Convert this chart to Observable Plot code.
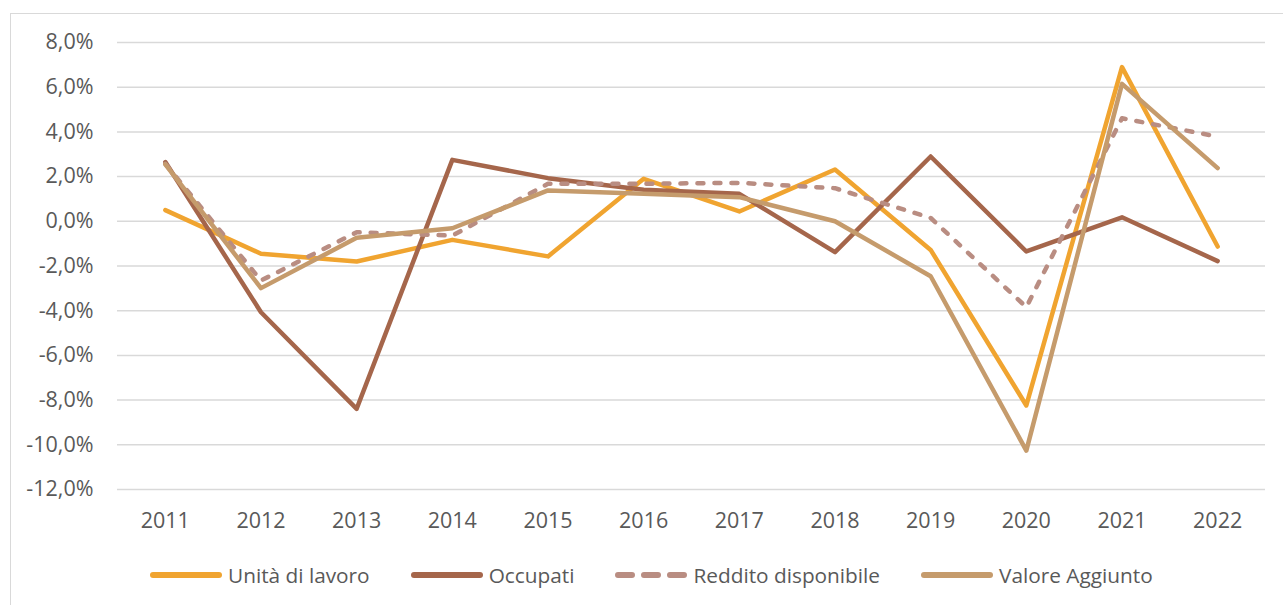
<!DOCTYPE html>
<html><head><meta charset="utf-8">
<script src="https://cdn.jsdelivr.net/npm/d3@7"></script>
<script src="https://cdn.jsdelivr.net/npm/@observablehq/plot@0.6"></script>
<style>
html,body{margin:0;padding:0;background:#fff;overflow:hidden;width:1283px;height:605px;}
body{font-family:"Open Sans",sans-serif;position:relative;}
#frame{position:absolute;left:10px;top:13px;width:1300px;height:700px;border:1.5px solid #d9d9d9;box-sizing:border-box;}
#chart{position:absolute;left:0;top:0;}
#legend{position:absolute;left:150px;top:560px;height:30px;display:flex;align-items:center;font-size:20.8px;color:#595959;white-space:nowrap;}
.item{display:flex;align-items:center;margin-right:41px;}
.item svg{margin-right:6px;}
</style>
</head><body>
<div id="frame"></div>
<div id="chart"></div>
<div id="legend"></div>
<script>
const years = ["2011","2012","2013","2014","2015","2016","2017","2018","2019","2020","2021","2022"];
const unitaLavoro = [0.5,-1.45,-1.8,-0.83,-1.57,1.9,0.44,2.32,-1.28,-8.24,6.9,-1.13];
const occupati = [2.65,-4.07,-8.39,2.75,1.93,1.41,1.23,-1.38,2.9,-1.35,0.18,-1.78];
const redditoDisponibile = [2.57,-2.65,-0.49,-0.64,1.68,1.68,1.72,1.48,0.15,-3.84,4.61,3.79];
const valoreAggiunto = [2.55,-2.99,-0.74,-0.31,1.38,1.23,1.08,0.0,-2.46,-10.26,6.15,2.38];
const seriesNames = ["Unità di lavoro","Occupati","Reddito disponibile","Valore Aggiunto"];
const yTicks = [-12,-10,-8,-6,-4,-2,0,2,4,6,8];

const colors = ["#F0A430","#A5664B","#B98D82","#C59B6C"];
const seriesValues = [unitaLavoro, occupati, redditoDisponibile, valoreAggiunto];
const dashes = [null, null, "6,11", null];

const fmt = v => v.toFixed(1).replace(".", ",") + "%";

const lineMarks = seriesValues.map((vals, k) =>
  Plot.line(years.map((y, i) => ({year: y, v: vals[i]})), {
    x: "year", y: "v", stroke: colors[k], strokeWidth: 4.5,
    strokeLinejoin: "round", strokeLinecap: "round",
    strokeDasharray: dashes[k] || undefined
  })
);

const chart = Plot.plot({
  width: 1283, height: 545,
  marginLeft: 117, marginRight: 18, marginTop: 42, marginBottom: 56,
  x: {type: "point", domain: years, padding: 0.5, round: false, label: null},
  y: {domain: [-12, 8], label: null},
  style: {fontFamily: "'Open Sans', sans-serif", fontSize: "21.5px", color: "#595959", background: "transparent", overflow: "visible"},
  marks: [
    Plot.ruleY(yTicks, {stroke: "#d9d9d9", strokeWidth: 1.5}),
    Plot.axisY(yTicks, {tickSize: 0, tickPadding: 24, tickFormat: fmt, fontSize: 21.5, fill: "#595959", label: null}),
    Plot.axisX({tickSize: 0, tickPadding: 23, fontSize: 21.5, fill: "#595959", label: null}),
    ...lineMarks
  ]
});
document.getElementById("chart").appendChild(chart);

const legend = document.getElementById("legend");
seriesNames.forEach((name, k) => {
  const item = document.createElement("div");
  item.className = "item";
  const ns = "http://www.w3.org/2000/svg";
  const sw = document.createElementNS(ns, "svg");
  sw.setAttribute("width", 72); sw.setAttribute("height", 12);
  const ln = document.createElementNS(ns, "line");
  ln.setAttribute("x1", 3); ln.setAttribute("x2", 69);
  ln.setAttribute("y1", 6); ln.setAttribute("y2", 6);
  ln.setAttribute("stroke", colors[k]); ln.setAttribute("stroke-width", 6);
  ln.setAttribute("stroke-linecap", "round");
  if (dashes[k]) ln.setAttribute("stroke-dasharray", "14,12");
  sw.appendChild(ln);
  item.appendChild(sw);
  const t = document.createElement("span");
  t.textContent = name;
  item.appendChild(t);
  legend.appendChild(item);
});
</script>
</body></html>
